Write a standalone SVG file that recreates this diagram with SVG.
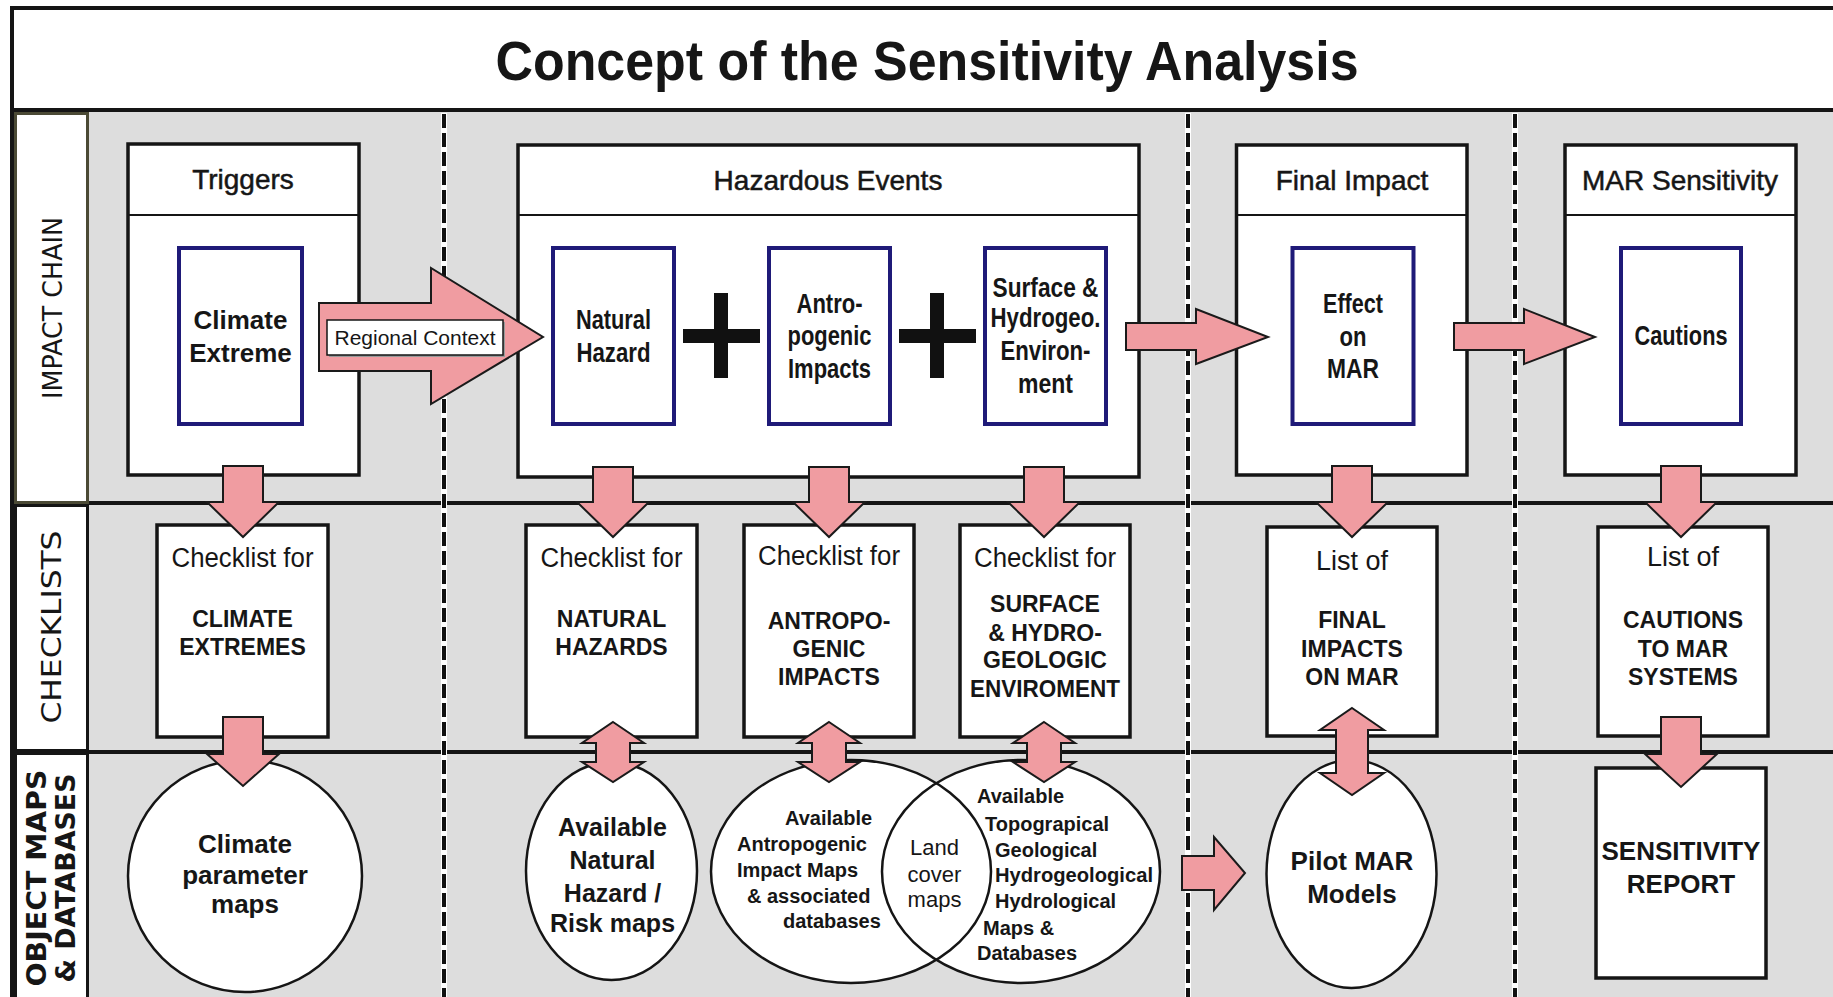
<svg xmlns="http://www.w3.org/2000/svg" width="1833" height="997" viewBox="0 0 1833 997">
<style>
.box{fill:#fff;stroke:#151515;stroke-width:3.5}
.hdr{fill:none;stroke:#151515;stroke-width:2}
.blue{fill:#fff;stroke:#1f1a78;stroke-width:4}
.arr{fill:#f09ca1;stroke:#1a1a1a;stroke-width:2}
.ellf{fill:#fff;stroke:none}
.ello{fill:none;stroke:#151515;stroke-width:2.5}
.ell{fill:#fff;stroke:#151515;stroke-width:2.5}
text{font-family:"Liberation Sans",Arial,sans-serif;fill:#161616;text-anchor:middle}
.h{font-size:28px;stroke:#161616;stroke-width:0.5}
.b26{font-size:26px;font-weight:bold}
.nb{font-size:28px;font-weight:bold}
.cl{font-size:27px}
.cap{font-size:23px;font-weight:bold}
.sm{font-size:20px;font-weight:bold;text-anchor:start}
.side{font-family:"DejaVu Sans",Verdana,sans-serif;font-size:27px}
.dash{stroke:#111;stroke-width:4;stroke-dasharray:14 5}
.dashw{stroke:#fff;stroke-width:6}
.rule{stroke:#151515;stroke-width:4}
</style>

<!-- background and frame -->
<rect x="0" y="0" width="1833" height="997" fill="#fff"/>
<rect x="88" y="112" width="1745" height="885" fill="#dddddd"/>
<rect x="12" y="8" width="1830" height="102" fill="#fff" stroke="#151515" stroke-width="4"/>
<line class="rule" x1="12" y1="6" x2="12" y2="997"/>
<line class="rule" x1="88" y1="503" x2="1833" y2="503"/>
<line class="rule" x1="88" y1="752" x2="1833" y2="752"/>
<line class="rule" x1="10" y1="110" x2="1833" y2="110"/>

<g id="title">
<text x="927" y="80" font-size="56" font-weight="bold" textLength="863" lengthAdjust="spacingAndGlyphs">Concept of the Sensitivity Analysis</text>
</g>

<g id="row-impact-chain">
<rect x="15.5" y="113.5" width="72" height="389" fill="#fff" stroke="#4b4a35" stroke-width="3"/>
<text class="side" transform="translate(62,308) rotate(-90)" textLength="182" lengthAdjust="spacingAndGlyphs">IMPACT CHAIN</text>
</g>
<g id="row-checklists">
<rect x="15.5" y="505.5" width="72" height="245" fill="#fff" stroke="#151515" stroke-width="3"/>
<text class="side" transform="translate(61,627) rotate(-90)" textLength="193" lengthAdjust="spacingAndGlyphs">CHECKLISTS</text>
</g>
<g id="row-object-maps">
<rect x="15.5" y="753.5" width="72" height="250" fill="#fff" stroke="#151515" stroke-width="3"/>
<text class="side" font-weight="bold" transform="translate(46,878) rotate(-90)" textLength="217" lengthAdjust="spacingAndGlyphs">OBJECT MAPS</text>
<text class="side" font-weight="bold" transform="translate(75,878) rotate(-90)" textLength="209" lengthAdjust="spacingAndGlyphs">&amp; DATABASES</text>
</g>

<!-- column separators -->
<g id="separators">
<line class="dashw" x1="444" y1="113" x2="444" y2="997"/>
<line class="dash" x1="444" y1="114" x2="444" y2="997"/>
<line class="dashw" x1="1188" y1="113" x2="1188" y2="997"/>
<line class="dash" x1="1188" y1="114" x2="1188" y2="997"/>
<line class="dashw" x1="1515" y1="113" x2="1515" y2="997"/>
<line class="dash" x1="1515" y1="114" x2="1515" y2="997"/>
</g>

<!-- top row nodes -->
<g id="triggers">
<rect class="box" x="128" y="144" width="231" height="331"/>
<line class="hdr" x1="128" y1="215" x2="359" y2="215"/>
<text class="h" x="243" y="189">Triggers</text>
<rect class="blue" x="179" y="248" width="123" height="176"/>
<text class="b26" x="240.5" y="329">Climate</text>
<text class="b26" x="240.5" y="362">Extreme</text>
</g>

<g id="hazardous-events">
<rect class="box" x="518" y="145" width="621" height="332"/>
<line class="hdr" x1="518" y1="215" x2="1139" y2="215"/>
<text class="h" x="828" y="190">Hazardous Events</text>
<rect class="blue" x="553" y="248" width="121" height="176"/>
<text class="nb" x="613.5" y="329" textLength="75" lengthAdjust="spacingAndGlyphs">Natural</text>
<text class="nb" x="613.5" y="362" textLength="74" lengthAdjust="spacingAndGlyphs">Hazard</text>
<rect x="683" y="329" width="77" height="14" fill="#111"/>
<rect x="714" y="293" width="14" height="85" fill="#111"/>
<rect class="blue" x="769" y="248" width="121" height="176"/>
<text class="nb" x="829.5" y="313" textLength="66" lengthAdjust="spacingAndGlyphs">Antro-</text>
<text class="nb" x="829.5" y="345" textLength="84" lengthAdjust="spacingAndGlyphs">pogenic</text>
<text class="nb" x="829.5" y="378" textLength="83" lengthAdjust="spacingAndGlyphs">Impacts</text>
<rect x="899" y="329" width="77" height="14" fill="#111"/>
<rect x="930" y="293" width="14" height="85" fill="#111"/>
<rect class="blue" x="985" y="248" width="121" height="176"/>
<text class="nb" x="1045.5" y="297" textLength="106" lengthAdjust="spacingAndGlyphs">Surface &amp;</text>
<text class="nb" x="1045.5" y="327" textLength="110" lengthAdjust="spacingAndGlyphs">Hydrogeo.</text>
<text class="nb" x="1045.5" y="360" textLength="90" lengthAdjust="spacingAndGlyphs">Environ-</text>
<text class="nb" x="1045.5" y="393" textLength="55" lengthAdjust="spacingAndGlyphs">ment</text>
</g>

<g id="final-impact">
<rect class="box" x="1236.5" y="145" width="230.5" height="330"/>
<line class="hdr" x1="1236.5" y1="215" x2="1467" y2="215"/>
<text class="h" x="1352" y="190">Final Impact</text>
<rect class="blue" x="1292.5" y="248" width="121" height="176"/>
<text class="nb" x="1353" y="313" textLength="60" lengthAdjust="spacingAndGlyphs">Effect</text>
<text class="nb" x="1353" y="346" textLength="27" lengthAdjust="spacingAndGlyphs">on</text>
<text class="nb" x="1353" y="378" textLength="52" lengthAdjust="spacingAndGlyphs">MAR</text>
</g>

<g id="mar-sensitivity">
<rect class="box" x="1565" y="145" width="231" height="330"/>
<line class="hdr" x1="1565" y1="215" x2="1796" y2="215"/>
<text class="h" x="1680" y="190">MAR Sensitivity</text>
<rect class="blue" x="1621" y="248" width="120" height="176"/>
<text class="nb" x="1681" y="345" textLength="93" lengthAdjust="spacingAndGlyphs">Cautions</text>
</g>

<!-- checklist row -->
<g id="checklist-climate">
<rect class="box" x="157" y="525" width="171" height="212"/>
<text class="cl" x="242.5" y="567" textLength="142" lengthAdjust="spacingAndGlyphs">Checklist for</text>
<text class="cap" x="242.5" y="627">CLIMATE</text>
<text class="cap" x="242.5" y="655">EXTREMES</text>
</g>
<g id="checklist-natural">
<rect class="box" x="526" y="525" width="171" height="212"/>
<text class="cl" x="611.5" y="567" textLength="142" lengthAdjust="spacingAndGlyphs">Checklist for</text>
<text class="cap" x="611.5" y="627">NATURAL</text>
<text class="cap" x="611.5" y="655">HAZARDS</text>
</g>
<g id="checklist-antropogenic">
<rect class="box" x="744" y="525" width="170" height="212"/>
<text class="cl" x="829" y="565" textLength="142" lengthAdjust="spacingAndGlyphs">Checklist for</text>
<text class="cap" x="829" y="629">ANTROPO-</text>
<text class="cap" x="829" y="657">GENIC</text>
<text class="cap" x="829" y="685">IMPACTS</text>
</g>
<g id="checklist-surface">
<rect class="box" x="960" y="525" width="170" height="212"/>
<text class="cl" x="1045" y="567" textLength="142" lengthAdjust="spacingAndGlyphs">Checklist for</text>
<text class="cap" x="1045" y="612">SURFACE</text>
<text class="cap" x="1045" y="641">&amp; HYDRO-</text>
<text class="cap" x="1045" y="668">GEOLOGIC</text>
<text class="cap" x="1045" y="697" textLength="150" lengthAdjust="spacingAndGlyphs">ENVIROMENT</text>
</g>
<g id="list-final-impacts">
<rect class="box" x="1267" y="527" width="170" height="209"/>
<text class="cl" x="1352" y="570">List of</text>
<text class="cap" x="1352" y="628">FINAL</text>
<text class="cap" x="1352" y="657">IMPACTS</text>
<text class="cap" x="1352" y="685">ON MAR</text>
</g>
<g id="list-cautions">
<rect class="box" x="1598" y="527" width="170" height="209"/>
<text class="cl" x="1683" y="566">List of</text>
<text class="cap" x="1683" y="628">CAUTIONS</text>
<text class="cap" x="1683" y="657">TO MAR</text>
<text class="cap" x="1683" y="685">SYSTEMS</text>
</g>

<!-- object maps row -->
<g id="climate-maps">
<ellipse class="ell" cx="245" cy="876" rx="117" ry="116"/>
<text class="b26" x="245" y="853" font-size="25">Climate</text>
<text class="b26" x="245" y="884" font-size="25">parameter</text>
<text class="b26" x="245" y="913" font-size="25">maps</text>
</g>
<g id="natural-hazard-maps">
<ellipse class="ell" cx="611.5" cy="871" rx="85.5" ry="109"/>
<text class="b26" x="612.5" y="836" style="font-size:25px">Available</text>
<text class="b26" x="612.5" y="869" style="font-size:25px">Natural</text>
<text class="b26" x="612.5" y="902" style="font-size:25px">Hazard /</text>
<text class="b26" x="612.5" y="932" style="font-size:25px">Risk maps</text>
</g>
<g id="antropogenic-and-surface-maps">
<ellipse class="ellf" cx="851" cy="871.5" rx="140" ry="111.5"/>
<ellipse class="ellf" cx="1021" cy="871.5" rx="139" ry="111.5"/>
<ellipse class="ello" cx="851" cy="871.5" rx="140" ry="111.5"/>
<ellipse class="ello" cx="1021" cy="871.5" rx="139" ry="111.5"/>
<text class="sm" x="785" y="825">Available</text>
<text class="sm" x="737" y="851">Antropogenic</text>
<text class="sm" x="737" y="877">Impact Maps</text>
<text class="sm" x="747" y="903">&amp; associated</text>
<text class="sm" x="783" y="928">databases</text>
<text x="934.5" y="855" font-size="22">Land</text>
<text x="934.5" y="882" font-size="22">cover</text>
<text x="934.5" y="907" font-size="22">maps</text>
<text class="sm" x="977" y="803">Available</text>
<text class="sm" x="985" y="831">Topograpical</text>
<text class="sm" x="995" y="857">Geological</text>
<text class="sm" x="995" y="882" textLength="158" lengthAdjust="spacingAndGlyphs">Hydrogeological</text>
<text class="sm" x="995" y="908">Hydrological</text>
<text class="sm" x="983" y="935">Maps &amp;</text>
<text class="sm" x="977" y="960">Databases</text>
</g>
<g id="pilot-mar-models">
<ellipse class="ell" cx="1351.5" cy="874" rx="85" ry="114"/>
<text class="b26" x="1352" y="870">Pilot MAR</text>
<text class="b26" x="1352" y="903">Models</text>
</g>
<g id="sensitivity-report">
<rect class="box" x="1596" y="768" width="170" height="210"/>
<text class="b26" x="1681" y="860">SENSITIVITY</text>
<text class="b26" x="1681" y="893">REPORT</text>
</g>

<!-- connectors -->
<g id="connectors">
<polygon class="arr" points="319,303 431,303 431,268 543,337 431,404 431,371 319,371"/>
<g id="regional-context-label">
<rect x="329" y="322" width="176" height="35" fill="#9a9a9a"/>
<rect x="327" y="320" width="176" height="35" fill="#fff" stroke="#151515" stroke-width="1.5"/>
<text x="415" y="345" font-size="20" textLength="161" lengthAdjust="spacingAndGlyphs">Regional Context</text>
</g>
<polygon class="arr" points="1126,323 1196,323 1196,309 1268,337 1196,364 1196,350 1126,350"/>
<polygon class="arr" points="1454,323 1524,323 1524,309 1595,337 1524,364 1524,350 1454,350"/>
<polygon class="arr" points="1182,856 1214,856 1214,837 1245,873 1214,910 1214,890 1182,890"/>

<polygon class="arr" points="223,466 263,466 263,502 279,502 243,537 207,502 223,502"/>
<polygon class="arr" points="593,467 633,467 633,502 649,502 613,537 577,502 593,502"/>
<polygon class="arr" points="809,467 849,467 849,502 865,502 829,537 793,502 809,502"/>
<polygon class="arr" points="1024,467 1064,467 1064,502 1080,502 1044,537 1008,502 1024,502"/>
<polygon class="arr" points="1332,466 1372,466 1372,502 1388,502 1352,537 1316,502 1332,502"/>
<polygon class="arr" points="1661,466 1701,466 1701,502 1717,502 1681,537 1645,502 1661,502"/>

<polygon class="arr" points="223,717 263,717 263,754 279,754 243,786 207,754 223,754"/>
<polygon class="arr" points="1661,717 1701,717 1701,754 1717,754 1681,787 1645,754 1661,754"/>

<polygon class="arr" points="613,722 644,743 630,743 630,762 644,762 613,782 582,762 596,762 596,743 582,743"/>
<polygon class="arr" points="829,722 860,743 846,743 846,762 860,762 829,782 798,762 812,762 812,743 798,743"/>
<polygon class="arr" points="1044,722 1075,743 1061,743 1061,762 1075,762 1044,782 1013,762 1027,762 1027,743 1013,743"/>
<polygon class="arr" points="1352,708 1384,730 1368,730 1368,773 1384,773 1352,795 1320,773 1336,773 1336,730 1320,730"/>
</g>
</svg>
